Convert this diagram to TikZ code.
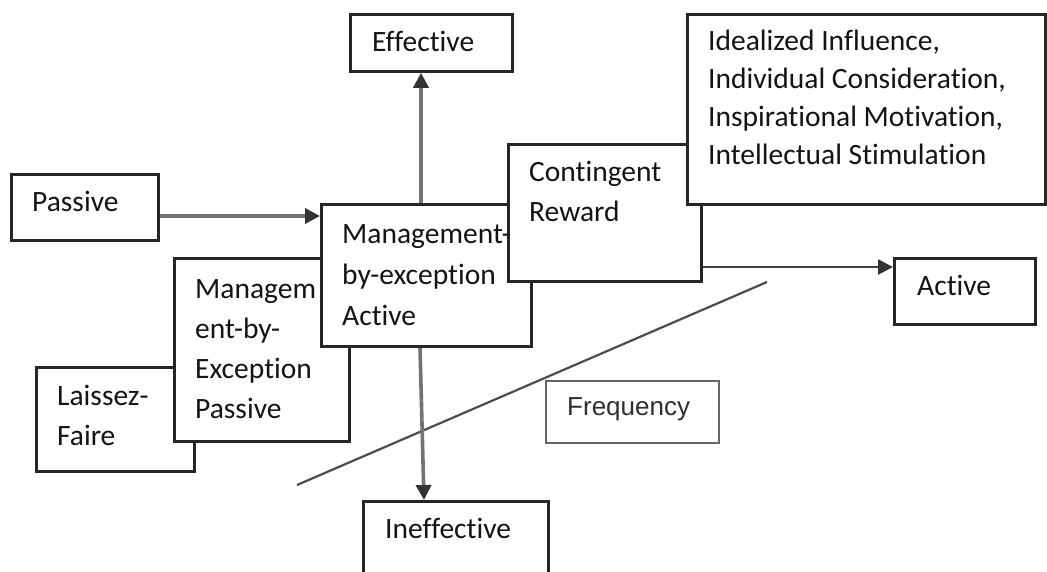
\documentclass[tikz,border=0pt]{standalone}
\usepackage{fontspec}
\setmainfont{Carlito}[Ligatures=NoCommon]
\newfontfamily\freqfont{Liberation Sans}
\usetikzlibrary{arrows.meta}
\begin{document}
\begin{tikzpicture}[x=1pt,y=-1pt,
  box/.style={draw=black!85, line width=2.8pt, fill=white, rectangle, inner sep=0pt, anchor=north west},
  lbl/.style={anchor=base west, inner sep=0pt, align=left, text=black!92, font=\fontsize{29.5}{40}\selectfont},
  arr/.style={draw=black!55, line width=3.6pt, -{Triangle[length=15pt,width=15pt,color=black!80,fill=black!80]}},
  diag/.style={draw=black!70, line width=2.2pt}]
\useasboundingbox[fill=white] (0,0) rectangle (1047,572);
% boxes, back to front
\node[box, minimum width=158pt, minimum height=104pt] (laissez) at (35,366) {};
\node[box, minimum width=175pt, minimum height=183pt] (mbep) at (173,257) {};
\node[box, minimum width=147pt, minimum height=66pt] (passive) at (10,173) {};
\node[box, minimum width=210pt, minimum height=142pt] (mbea) at (320,203) {};
\node[box, minimum width=193pt, minimum height=137pt] (cr) at (507,143) {};
\node[box, minimum width=358pt, minimum height=190pt] (ideal) at (686,13) {};
\node[box, minimum width=162pt, minimum height=57pt] (eff) at (349,13) {};
\node[box, minimum width=141pt, minimum height=66pt] (active) at (893,257) {};
\node[box, minimum width=185pt, minimum height=85pt] (ineff) at (362,500) {};
\node[box, draw=black!60, line width=2.4pt, minimum width=173pt, minimum height=62pt] (freq) at (545,380) {};
% frequency line
\coordinate (d1) at (297,485);
\coordinate (d2) at (767,282);
\draw[diag] (d1) -- (d2);
% connectors
\draw[arr] (passive.east |- 0,216) -- (mbea.west |- 0,216);
\draw[arr] (mbea.north -| 421,0) -- (eff.south -| 421,0);
\draw[arr] (mbea.south -| 420,0) -- (ineff.north -| 424,0);
\draw[arr, draw=black!75, line width=2.6pt] (cr.east |- 0,267) -- (active.west |- 0,267);
% labels (anchor = baseline of last line)
\node[lbl] (tpassive) at (32,212) {Passive};
\node[lbl] (teff) at (372,52) {Effective};
\node[lbl, font=\fontsize{29.5}{41}\selectfont] (tmbea) at (342,325) {Management-\\by-exception\\Active};
\node[lbl] (tcr) at (529,222) {Contingent\\Reward};
\node[lbl, font=\fontsize{29.5}{38.3}\selectfont] (tideal) at (708,165) {Idealized Influence,\\Individual Consideration,\\Inspirational Motivation,\\Intellectual Stimulation};
\node[lbl] (tactive) at (917,295) {Active};
\node[lbl] (tmbep) at (195,418) {Managem\\ent-by-\\Exception\\Passive};
\node[lbl] (tlaissez) at (57,445) {Laissez-\\Faire};
\node[lbl] (tineff) at (385,538) {Ineffective};
\node[lbl, text=black!82, font=\freqfont\fontsize{26}{30}\selectfont] (tfreq) at (567,415) {Frequency};
\end{tikzpicture}
\end{document}
